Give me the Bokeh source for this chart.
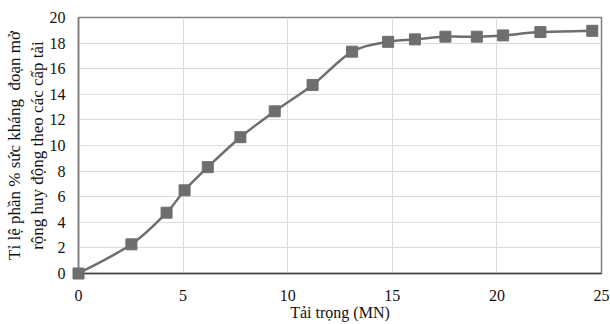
import numpy as np
from bokeh.plotting import figure
from bokeh.models import Range1d, FixedTicker
from bokeh.embed import file_html
from bokeh.resources import INLINE

# data
load_mn = [0.0, 2.53, 4.21, 5.07, 6.18, 7.74, 9.38, 11.19, 13.08, 14.8, 16.08, 17.54, 19.04, 20.3, 22.08, 24.56]
percent = [0.0, 2.28, 4.75, 6.5, 8.31, 10.65, 12.67, 14.73, 17.33, 18.1, 18.29, 18.5, 18.5, 18.6, 18.86, 18.96]
x_ticks = [0, 5, 10, 15, 20, 25]
y_ticks = [0, 2, 4, 6, 8, 10, 12, 14, 16, 18, 20]
x_title = "Tải trọng (MN)"
y_title = "Tỉ lệ phần % sức kháng\u00a0 đoạn mở\nrộng huy động theo các cấp tải"

FONT = "Liberation Serif"
GRAY = "#6e6e6e"

p = figure(width=610, height=324, output_backend="svg", toolbar_location=None,
           x_range=Range1d(0, 25), y_range=Range1d(0, 20),
           min_border_left=78, min_border_right=9, min_border_top=17, min_border_bottom=51)
p.background_fill_color = "white"
p.border_fill_color = "white"
p.outline_line_color = "#808080"
p.outline_line_width = 1.5

# smooth (Excel-like) curve via cubic Bezier segments computed from the data
xs = np.array(load_mn)
ys = np.array(percent)
n = len(xs)
t = 1.0 / 6.0
x0, y0, x1, y1, cx0, cy0, cx1, cy1 = [], [], [], [], [], [], [], []
for i in range(n - 1):
    pm = i - 1 if i > 0 else i
    pp = i + 2 if i + 2 < n else i + 1
    x0.append(xs[i]); y0.append(ys[i]); x1.append(xs[i + 1]); y1.append(ys[i + 1])
    cx0.append(xs[i] + (xs[i + 1] - xs[pm]) * t)
    cy0.append(ys[i] + (ys[i + 1] - ys[pm]) * t)
    cx1.append(xs[i + 1] - (xs[pp] - xs[i]) * t)
    cy1.append(ys[i + 1] - (ys[pp] - ys[i]) * t)
p.bezier(x0=x0, y0=y0, x1=x1, y1=y1, cx0=cx0, cy0=cy0, cx1=cx1, cy1=cy1,
         line_color=GRAY, line_width=2.5)
sq = p.scatter(load_mn, percent, marker="square", size=11, fill_color=GRAY, line_color=GRAY)
sq.level = "overlay"

p.xaxis.ticker = FixedTicker(ticks=x_ticks)
p.yaxis.ticker = FixedTicker(ticks=y_ticks)
p.xgrid.ticker = FixedTicker(ticks=x_ticks)
p.ygrid.ticker = FixedTicker(ticks=y_ticks)
p.grid.grid_line_color = "#dcdcdc"
p.grid.grid_line_width = 1

for ax in (p.xaxis, p.yaxis):
    ax.major_tick_out = 0
    ax.major_tick_in = 0
    ax.minor_tick_out = 0
    ax.minor_tick_in = 0
    ax.major_label_text_font = FONT
    ax.major_label_text_font_size = "16px"
    ax.major_label_text_color = "#111111"
    ax.axis_label_text_font = FONT
    ax.axis_label_text_font_style = "normal"
    ax.axis_label_text_color = "#111111"

p.xaxis.axis_label_text_font_size = "16px"
p.yaxis.axis_label_text_font_size = "17px"
p.xaxis.axis_line_color = "#3f3f3f"
p.xaxis.axis_line_width = 1.5
p.yaxis.axis_line_color = "#7a7a7a"
p.yaxis.axis_line_width = 1.5
p.xaxis.major_label_standoff = 16
p.yaxis.major_label_standoff = 13
p.xaxis.axis_label = x_title
p.xaxis.axis_label_standoff = 0
p.yaxis.axis_label = y_title
p.yaxis.axis_label_standoff = 0

open("out.html", "w").write(file_html(p, INLINE))
